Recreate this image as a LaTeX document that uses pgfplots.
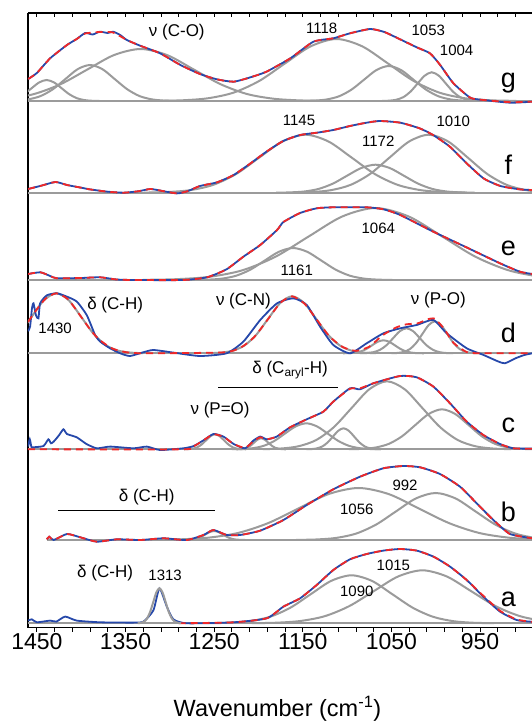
\documentclass[border=0pt]{standalone}
\usepackage{pgfplots}
\pgfplotsset{compat=1.18}
\usepackage{fontspec}
\setmainfont{Liberation Sans}
\definecolor{cblue}{RGB}{38,72,170}
\definecolor{cred}{RGB}{240,40,40}
\definecolor{cgray}{RGB}{155,155,155}
\pgfplotsset{
 off/.style={y filter/.expression={y+#1}},
 comp/.style={cgray, line width=2pt, smooth, tension=0.5},
 spec/.style={cblue, line width=1.8pt, smooth, tension=0.35},
 fitc/.style={cred, line width=1.8pt, dash pattern=on 7pt off 5pt, smooth, tension=0.35},
 basel/.style={cgray, line width=2pt},
}
\newcommand{\sA}{\fontsize{15}{18}\selectfont}
\newcommand{\sB}{\fontsize{17}{20}\selectfont}
\newcommand{\sL}{\fontsize{27}{30}\selectfont}
\begin{document}
\begin{tikzpicture}
\path[use as bounding box] (0,0) rectangle (532pt,723pt);
\begin{axis}[at={(28pt,95.5pt)}, anchor=south west, width=504pt, height=614.5pt, scale only axis,
 xmin=891.4, xmax=1460, ymin=1.5, ymax=616, x dir=reverse,
 axis x line*=bottom, axis y line*=left, axis line style={-, line width=1.2pt},
 ytick=\empty, xtick={1450,1350,1250,1150,1050,950}, xticklabels={1450,1350,1250,1150,1050,950},
 minor xtick={910,930,...,1450}, tick align=outside, major tick length=4pt, minor tick length=4pt,
 every tick/.style={black, line width=0.9pt},
 xticklabel style={font=\fontsize{23}{27}\selectfont, yshift=1.5pt},
 xlabel={Wavenumber (cm\textsuperscript{-1})},
 xlabel style={font=\fontsize{23.5}{27}\selectfont, at={(rel axis cs:0.495,0)}, anchor=base, yshift=-89.3pt}]
%% ---------- panel g ----------
\addplot[comp, off=528] coordinates {(1498.5,.05)(1490,.23)(1481.5,.92)(1473,2.84)(1464.5,6.8)(1456,12.7)(1447.5,18.5)(1439,21)(1430.5,18.5)(1422,12.7)(1413.5,6.8)(1405,2.84)(1396.5,.92)(1388,.23)(1379.5,.05)};
\addplot[comp, off=528] coordinates {(1488,.08)(1474,.4)(1460,1.58)(1446,4.87)(1432,11.7)(1418,21.8)(1404,31.8)(1390,36)(1376,31.8)(1362,21.8)(1348,11.7)(1334,4.87)(1320,1.58)(1306,.4)(1292,.08)};
\addplot[comp, off=528] coordinates {(1543,.11)(1513,.58)(1483,2.28)(1453,7.0)(1423,16.9)(1393,31.5)(1363,45.9)(1333,52)(1303,45.9)(1273,31.5)(1243,16.9)(1213,7.0)(1183,2.28)(1153,.58)(1123,.11)};
\addplot[comp, off=528] coordinates {(1315,.14)(1286,.69)(1257,2.72)(1228,8.39)(1199,20.1)(1170,37.6)(1141,54.7)(1112,62)(1083,54.7)(1054,37.6)(1025,20.1)(996,8.39)(967,2.72)(938,.69)(909,.14)};
\addplot[comp, off=528] coordinates {(1151,.08)(1137,.39)(1123,1.54)(1109,4.74)(1095,11.4)(1081,21.2)(1067,30.9)(1053,35)(1039,30.9)(1025,21.2)(1011,11.4)(997,4.74)(983,1.54)(969,.39)(955,.08)};
\addplot[comp, off=528] coordinates {(1060.5,.06)(1052.5,.32)(1044.5,1.26)(1036.5,3.88)(1028.5,9.32)(1020.5,17.4)(1012.5,25.3)(1004.5,28.7)(996.5,25.3)(988.5,17.4)(980.5,9.32)(972.5,3.88)(964.5,1.26)(956.5,.32)(948.5,.06)};
\addplot[basel] coordinates {(1460,528)(891.4,528)};
\addplot[spec, off=528] coordinates {(1459.8,22)(1450,28)(1435,42.7)(1416,56)(1405,62)(1395.5,68)(1387,66.5)(1379,69.3)(1370,68)(1364,69.3)(1356,66)(1348.5,61)(1333.5,55.3)(1311,47.7)(1288,36)(1266,27)(1247,21.7)(1228,19.3)(1209,23.7)(1191,29.3)(1164,42.7)(1138,59.3)(1115.5,62.7)(1096.7,67.7)(1074,72)(1059,69.3)(1048,65)(1021.5,53.7)(1006.5,47.7)(995,36)(980,17.7)(961,3.3)(946,1)(916,-1.7)(891,-0.7)};
\addplot[fitc, off=528] coordinates {(1459.8,22)(1450,28)(1435,42.7)(1416,56)(1405,62)(1395.5,67.5)(1379,69)(1364,68.5)(1348.5,61)(1333.5,55.3)(1311,47.7)(1288,36)(1266,27)(1247,21.7)(1228,19.3)(1209,23.7)(1191,29.3)(1164,42.7)(1138,59.3)(1115.5,62.7)(1096.7,67.7)(1074,72)(1059,69.3)(1048,65)(1021.5,53.7)(1006.5,47.7)(995,36)(980,17.7)(961,3.3)(946,1)(916,-1.2)(891,-0.7)};
%% ---------- panel f ----------
\addplot[comp, off=436.3] coordinates {(1329,.13)(1303,.64)(1277,2.55)(1251,7.85)(1225,18.8)(1199,35.2)(1173,51.2)(1147,58)(1121,51.2)(1095,35.2)(1069,18.8)(1043,7.85)(1017,2.55)(991,.64)(965,.13)};
\addplot[comp, off=436.3] coordinates {(1180,.06)(1164,.31)(1148,1.23)(1132,3.8)(1116,9.1)(1100,17)(1084,24.7)(1068,28)(1052,24.7)(1036,17)(1020,9.1)(1004,3.8)(988,1.23)(972,.31)(956,.06)};
\addplot[comp, off=436.3] coordinates {(1162,.13)(1140,.64)(1118,2.55)(1096,7.85)(1074,18.8)(1052,35.2)(1030,51.2)(1008,58)(986,51.2)(964,35.2)(942,18.8)(920,7.85)(898,2.55)(876,.64)(854,.13)};
\addplot[basel] coordinates {(1460,436.3)(891.4,436.3)};
\addplot[spec, off=436.3] coordinates {(1459.8,3.7)(1445,7)(1429,10.7)(1416,7.7)(1400,5)(1390,3.3)(1370,1)(1352,0)(1335,1.5)(1322,3.7)(1310,2)(1292,-0.7)(1280,1.5)(1266,6.7)(1247,10.3)(1228,17.7)(1209,29.3)(1191,41)(1172,51.7)(1153,57.7)(1134,60)(1115.5,62.7)(1096.7,66.7)(1078,70)(1063,71.7)(1040,70)(1018,64.3)(1003,57.7)(984,46)(965,29.3)(946,14.3)(927,6.7)(905,3.3)(891,2.7)};
\addplot[fitc, off=436.3] coordinates {(1459.8,3.7)(1445,7)(1429,10.7)(1416,7.7)(1400,5)(1390,3.3)(1370,1)(1352,0)(1335,1.5)(1322,3.7)(1310,2)(1292,-0.7)(1280,1.5)(1266,6.7)(1247,10.3)(1228,17.7)(1209,29.3)(1191,41)(1172,51.7)(1153,57.7)(1134,60)(1115.5,62.7)(1096.7,66.7)(1078,70)(1063,71.7)(1040,70)(1018,64.3)(1003,57.7)(984,46)(965,29.3)(946,14.3)(927,6.7)(905,3.3)(891,2.7)};
%% ---------- panel e ----------
\addplot[comp, off=349] coordinates {(1273,.07)(1257,.36)(1241,1.4)(1225,4.33)(1209,10.4)(1193,19.4)(1177,28.2)(1161,32)(1145,28.2)(1129,19.4)(1113,10.4)(1097,4.33)(1081,1.4)(1065,.36)(1049,.07)};
\addplot[comp, off=349] coordinates {(1330.5,.16)(1293,.8)(1255.5,3.16)(1218,9.74)(1180.5,23.4)(1143,43.7)(1105.5,63.5)(1068,72)(1030.5,63.5)(993,43.7)(955.5,23.4)(918,9.74)(880.5,3.16)(843,.8)(805.5,.16)};
\addplot[basel] coordinates {(1460,349)(891.4,349)};
\addplot[spec, off=349] coordinates {(1459.8,6)(1446,7.7)(1435,4)(1427.5,1.7)(1400,2)(1378.6,2.7)(1360,0.5)(1341,0)(1285,0)(1258,2.7)(1236,10.7)(1217,23.3)(1198,35)(1179,50)(1171.8,58)(1153,67)(1134.3,71.7)(1115.5,72.7)(1078,72.7)(1059,70.7)(1040,65)(1002.7,48.3)(965,32.5)(927.5,16.7)(905,8.3)(891,6)};
\addplot[fitc, off=349] coordinates {(1459.8,6)(1446,7.7)(1435,4)(1427.5,1.7)(1400,2)(1378.6,2.7)(1360,0.5)(1341,0)(1285,0)(1258,2.7)(1236,10.7)(1217,23.3)(1198,35)(1179,50)(1171.8,58)(1153,67)(1134.3,71.7)(1115.5,72.7)(1078,72.7)(1059,70.7)(1040,65)(1002.7,48.3)(965,32.5)(927.5,16.7)(905,8.3)(891,6)};
%% ---------- panel d ----------
\addplot[comp, off=275.7] coordinates {(1526,.13)(1512,.67)(1498,2.6)(1484,8.1)(1470,19.5)(1456,36.4)(1442,53)(1428,60)(1414,53)(1400,36.4)(1386,19.5)(1372,8.1)(1358,2.6)(1344,.67)(1330,.13)};
\addplot[comp, off=275.7] coordinates {(1256.5,.13)(1243,.63)(1229.5,2.5)(1216,7.7)(1202.5,18.5)(1189,34.6)(1175.5,50.3)(1162,57)(1148.5,50.3)(1135,34.6)(1121.5,18.5)(1108,7.7)(1094.5,2.5)(1081,.63)(1067.5,.13)};
\addplot[comp, off=275.7] coordinates {(1104.5,.03)(1098,.14)(1091.5,.57)(1085,1.76)(1078.5,4.2)(1072,7.9)(1065.5,11.5)(1059,13)(1052.5,11.5)(1046,7.9)(1039.5,4.2)(1033,1.76)(1026.5,.57)(1020,.14)(1013.5,.03)};
\addplot[comp, off=275.7] coordinates {(1085.5,.06)(1078,.28)(1070.5,1.1)(1063,3.4)(1055.5,8.1)(1048,15.2)(1040.5,22.1)(1033,25)(1025.5,22.1)(1018,15.2)(1010.5,8.1)(1003,3.4)(995.5,1.1)(988,.28)(980.5,.06)};
\addplot[comp, off=275.7] coordinates {(1050,.07)(1043,.36)(1036,1.4)(1029,4.33)(1022,10.4)(1015,19.4)(1008,28.2)(1001,32)(994,28.2)(987,19.4)(980,10.4)(973,4.33)(966,1.4)(959,.36)(952,.07)};
\addplot[basel] coordinates {(1460,275.7)(891.4,275.7)};
\addplot[spec, off=275.7] coordinates {(1459.8,22)(1457.6,27)(1455.5,45)(1453.8,50)(1451,38)(1448.2,35)(1446.3,50)(1438.7,58)(1427.5,60)(1416.2,56.7)(1404.9,51.7)(1393.6,38)(1384.3,18.3)(1378.6,11.7)(1367.4,5)(1356,0)(1345,-2.7)(1330,1)(1318.5,3.3)(1296,0.7)(1266,-2.7)(1236,0)(1217,11.7)(1198,33.3)(1179,50)(1160.6,55)(1145.5,48.3)(1130.5,26.7)(1115.5,8.3)(1096.7,0)(1077.9,10)(1059,20)(1040,25)(1021.5,28.3)(1002.7,33.3)(987.6,20)(965,5)(946,-1.7)(930,-8)(922,-10)(910,-5)(900,-1.7)(891,0)};
\addplot[fitc, off=275.7] coordinates {(1460,31.3)(1450,44)(1440,54.8)(1428,60)(1415,54.2)(1400,36.4)(1390,24)(1380,13.9)(1365,4.8)(1350,1.2)(1330,0)(1240,0.9)(1220,5.7)(1205,16)(1190,33.2)(1175,50.7)(1162,57)(1148,49.6)(1135,34.6)(1120,17)(1105,6.3)(1090,2.4)(1075,6.6)(1060,18)(1045,25.7)(1033,29)(1020,30)(1010,33.8)(1001,34.6)(990,23.8)(980,10.4)(965,1.2)(950,0)(891,0)};
%% ---------- panel c ----------
\addplot[comp, off=179.7] coordinates {(1284,.03)(1279,.17)(1274,.66)(1269,2)(1264,4.9)(1259,9.1)(1254,13.2)(1249,15)(1244,13.2)(1239,9.1)(1234,4.9)(1229,2)(1224,.66)(1219,.17)(1214,.03)};
\addplot[comp, off=179.7] coordinates {(1225,.02)(1221,.12)(1217,.48)(1213,1.5)(1209,3.6)(1205,6.7)(1201,9.7)(1197,11)(1193,9.7)(1189,6.7)(1185,3.6)(1181,1.5)(1177,.48)(1173,.12)(1169,.02)};
\addplot[comp, off=179.7] coordinates {(1230,.06)(1218,.29)(1206,1.14)(1194,3.5)(1182,8.4)(1170,15.8)(1158,22.9)(1146,26)(1134,22.9)(1122,15.8)(1110,8.4)(1098,3.5)(1086,1.14)(1074,.29)(1062,.06)};
\addplot[comp, off=179.7] coordinates {(1146,.05)(1140,.23)(1134,.92)(1128,2.84)(1122,6.8)(1116,12.7)(1110,18.5)(1104,21)(1098,18.5)(1092,12.7)(1086,6.8)(1080,2.84)(1074,.92)(1068,.23)(1062,.05)};
\addplot[comp, off=179.7] coordinates {(1195,.15)(1175,.75)(1155,2.99)(1135,9.2)(1115,22.1)(1095,41.2)(1075,60)(1055,68)(1035,60)(1015,41.2)(995,22.1)(975,9.2)(955,2.99)(935,.75)(915,.15)};
\addplot[comp, off=179.7] coordinates {(1098,.09)(1083,.44)(1068,1.76)(1053,5.41)(1038,13)(1023,24.3)(1008,35.3)(993,40)(978,35.3)(963,24.3)(948,13)(933,5.41)(918,1.76)(903,.44)(888,.09)};
\addplot[basel] coordinates {(1460,179.7)(891.4,179.7)};
\addplot[spec, off=179.7] coordinates {(1459.8,2.7)(1458,10)(1456,2)(1454,2)(1442.5,3.3)(1437,10)(1434,6)(1431,7.7)(1425,14)(1420,20)(1416,15.3)(1405,12)(1394,5.3)(1382.4,1)(1367.3,2.7)(1341,1)(1326,2.7)(1311,-0.7)(1284.6,1)(1273,3.3)(1262,9)(1250.8,15.3)(1239.5,12.7)(1228,5.3)(1215,1)(1205.7,8.7)(1198,12.7)(1190.6,10)(1179.4,12.7)(1164.3,22)(1145.5,30)(1126.7,37.7)(1115.5,47.7)(1096.7,61)(1085.4,60)(1070.4,66)(1040.3,73.3)(1021.5,72)(1002.7,62.7)(983.9,46)(965.1,27.7)(946.3,14.3)(927.5,5.3)(912.5,1)(891,0.7)};
\addplot[fitc, off=179.7] coordinates {(1460,0)(1285,0)(1273,3)(1262,9)(1250.8,15)(1239.5,12.5)(1228,5.3)(1215,1.5)(1205.7,8)(1198,12)(1190.6,10)(1179.4,12.7)(1164.3,22)(1145.5,30)(1126.7,37.7)(1115.5,47.7)(1096.7,60.5)(1085.4,61)(1070.4,66)(1040.3,73.3)(1021.5,72)(1002.7,62.7)(983.9,46)(965.1,27.7)(946.3,14.3)(927.5,5.3)(912.5,1)(891,0.5)};
%% ---------- panel b ----------
\addplot[comp, off=89] coordinates {(1285,.02)(1280,.1)(1275,.4)(1270,1.2)(1265,2.9)(1260,5.5)(1255,7.9)(1250,9)(1245,7.9)(1240,5.5)(1235,2.9)(1230,1.2)(1225,.4)(1220,.1)(1215,.02)};
\addplot[comp, off=89] coordinates {(1325,.11)(1291,.58)(1257,2.28)(1223,7.04)(1189,16.9)(1155,31.5)(1121,45.9)(1087,52)(1053,45.9)(1019,31.5)(985,16.9)(951,7.04)(917,2.28)(883,.58)(849,.11)};
\addplot[comp, off=89] coordinates {(1157.5,.1)(1135,.52)(1112.5,2.06)(1090,6.36)(1067.5,15.3)(1045,28.5)(1022.5,41.5)(1000,47)(977.5,41.5)(955,28.5)(932.5,15.3)(910,6.36)(887.5,2.06)(865,.52)(842.5,.1)};
\addplot[basel] coordinates {(1439,89)(891.4,89)};
\addplot[spec, off=89] coordinates {(1438.8,0.7)(1436,3.3)(1431,0)(1416,6)(1401,2.7)(1382.4,-1.7)(1359.8,0.7)(1333.5,0)(1307,1.7)(1280.9,0)(1262,5)(1250.8,10)(1235.8,5)(1220.7,5)(1198.2,9.3)(1171.8,20)(1145.5,35)(1115.5,50.7)(1085.4,63.3)(1059.1,71.7)(1036.5,74)(1017.7,72.7)(995.2,66)(972.6,53.3)(953.8,36.7)(935,20)(916.2,6)(891,1.7)};
\addplot[fitc, off=89] coordinates {(1438.8,0.7)(1436,3.3)(1431,0)(1416,6)(1401,2.7)(1382.4,-1.7)(1359.8,0.7)(1333.5,0)(1307,1.7)(1280.9,0)(1262,5)(1250.8,10)(1235.8,5)(1220.7,5)(1198.2,9.3)(1171.8,20)(1145.5,35)(1115.5,50.7)(1085.4,63.3)(1059.1,71.7)(1036.5,74)(1017.7,72.7)(995.2,66)(972.6,53.3)(953.8,36.7)(935,20)(916.2,6)(891,1.7)};
%% ---------- panel a ----------
\addplot[comp, off=5.7] coordinates {(1256,.11)(1233,.53)(1210,2.1)(1187,6.5)(1164,15.6)(1141,29.1)(1118,42.4)(1095,48)(1072,42.4)(1049,29.1)(1026,15.6)(1003,6.5)(980,2.1)(957,.53)(934,.11)};
\addplot[comp, off=5.7] coordinates {(1207.5,.12)(1180,.59)(1152.5,2.33)(1125,7.17)(1097.5,17.2)(1070,32.1)(1042.5,46.8)(1015,53)(987.5,46.8)(960,32.1)(932.5,17.2)(905,7.17)(877.5,2.33)(850,.59)(822.5,.12)};
\addplot[basel] coordinates {(1460,5.7)(891.4,5.7)};
\addplot[spec, off=5.7] coordinates {(1459.8,2.7)(1455.7,4)(1450,1)(1435,2.7)(1428,1.7)(1418,6.7)(1405,2.7)(1378.6,1)(1341,0.7)(1329.7,1.7)(1318.5,13)(1311.7,35)(1303.4,16.7)(1296,4)(1280.9,0)(1228,1)(1190.6,5)(1171.8,16.7)(1153,25)(1134.3,38.3)(1115.5,53.3)(1096.7,64)(1077.9,69.3)(1059,72.7)(1040.3,74.3)(1021.5,72.7)(1002.7,66.7)(983.9,56.7)(965.1,43.3)(946.3,26.7)(927.5,11.7)(908.7,3.3)(891,1.5)};
\addplot[fitc, off=5.7] coordinates {(1290,0)(1228,1)(1190.6,5)(1171.8,16.7)(1153,25)(1134.3,38.3)(1115.5,53.3)(1096.7,64)(1077.9,69.3)(1059,72.7)(1040.3,74.3)(1021.5,72.7)(1002.7,66.7)(983.9,56.7)(965.1,43.3)(946.3,27.5)(927.5,12.5)(908.7,3.8)(891,1.5)};
\addplot[comp, off=5.7] coordinates {(1336.2,.08)(1332.7,.39)(1329.2,1.54)(1325.7,4.74)(1322.2,11.4)(1318.7,21.2)(1315.2,30.9)(1311.7,35)(1308.2,30.9)(1304.7,21.2)(1301.2,11.4)(1297.7,4.74)(1294.2,1.54)(1290.7,.39)(1287.2,.08)};
%% ---------- annotations ----------
\begin{scope}[every node/.style={inner sep=0pt, anchor=center}]
\node[font=\sB] at (axis cs:1292.1,597.3) {ν (C-O)};
\node[font=\sA] at (axis cs:1128.6,600.7) {1118};
\node[font=\sA] at (axis cs:1008.4,599) {1053};
\node[font=\sA] at (axis cs:976.4,578.3) {1004};
\node[font=\sA] at (axis cs:1154.2,508.3) {1145};
\node[font=\sA] at (axis cs:980.2,507.3) {1010};
\node[font=\sA] at (axis cs:1064.8,487.3) {1172};
\node[font=\sA] at (axis cs:1064.8,400.7) {1064};
\node[font=\sA] at (axis cs:1156.8,359) {1161};
\node[font=\sB] at (axis cs:1361.7,324) {δ (C-H)};
\node[font=\sA] at (axis cs:1429.4,300.7) {1430};
\node[font=\sB] at (axis cs:1217,328.3) {ν (C-N)};
\node[font=\sB] at (axis cs:997.1,329) {ν (P-O)};
\node[font=\sB] at (axis cs:1164.3,259) {δ (C\textsubscript{aryl}-H)};
\draw[black, line width=0.9pt] (axis cs:1245.2,241.7) -- (axis cs:1109.9,241.7);
\node[font=\sB] at (axis cs:1243.3,219) {ν (P=O)};
\node[font=\sB] at (axis cs:1326,132.3) {δ (C-H)};
\draw[black, line width=0.9pt] (axis cs:1425.6,118.3) -- (axis cs:1248.9,118.3);
\node[font=\sA] at (axis cs:1034.6,144) {992};
\node[font=\sA] at (axis cs:1089.1,119.7) {1056};
\node[font=\sB] at (axis cs:1373,55.7) {δ (C-H)};
\node[font=\sA] at (axis cs:1305.3,54) {1313};
\node[font=\sA] at (axis cs:1047.8,64) {1015};
\node[font=\sA] at (axis cs:1089.1,37.3) {1090};
\node[font=\sL] at (axis cs:918.1,545.7) {g};
\node[font=\sL] at (axis cs:918.1,464) {f};
\node[font=\sL] at (axis cs:918.1,380.7) {e};
\node[font=\sL] at (axis cs:918.1,295.7) {d};
\node[font=\sL] at (axis cs:918.1,204) {c};
\node[font=\sL] at (axis cs:918.1,117) {b};
\node[font=\sL] at (axis cs:918.1,29.8) {a};
\end{scope}
\end{axis}
\begin{axis}[at={(28pt,95.5pt)}, anchor=south west, width=504pt, height=614.5pt, scale only axis,
 xmin=891.4, xmax=1460, ymin=1.5, ymax=616, x dir=reverse,
 axis x line*=top, axis y line=none, axis line style={-, line width=1.2pt},
 ytick=\empty, xtick={1450,1350,1250,1150,1050,950}, xticklabels={,,,,,,},
 minor xtick={910,930,...,1450}, tick align=inside, major tick length=4pt, minor tick length=4pt,
 every tick/.style={black, line width=0.9pt}]
\end{axis}
\end{tikzpicture}
\end{document}
